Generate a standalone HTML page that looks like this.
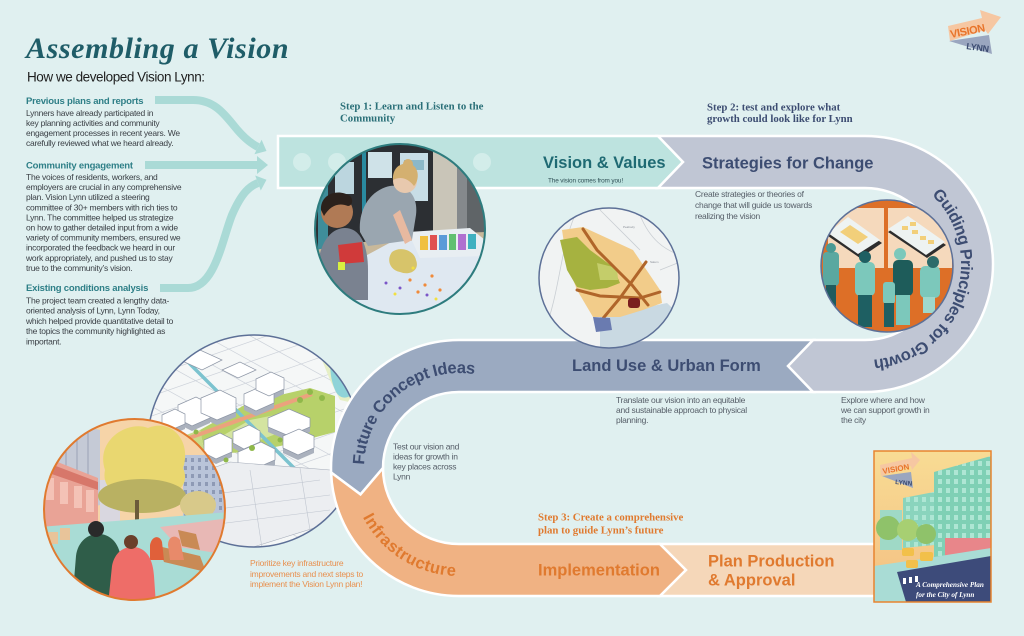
<!DOCTYPE html>
<html><head><meta charset="utf-8"><title>Assembling a Vision</title>
<style>
html,body{margin:0;padding:0;background:#e0f0f0;width:1024px;height:636px;overflow:hidden}
svg{display:block}
.s{font-family:"Liberation Sans",Arial,sans-serif}
.r{font-family:"Liberation Serif","Times New Roman",serif}
</style></head><body>
<svg width="1024" height="636" viewBox="0 0 1024 636" xmlns="http://www.w3.org/2000/svg">
<defs>
<clipPath id="c1"><circle cx="400" cy="229" r="85"/></clipPath>
<clipPath id="c2"><circle cx="609" cy="278" r="70"/></clipPath>
<clipPath id="c3"><circle cx="887" cy="266" r="66"/></clipPath>
<clipPath id="c4"><circle cx="254" cy="441" r="106"/></clipPath>
<clipPath id="c5"><circle cx="134.5" cy="509.5" r="90.5"/></clipPath>
<clipPath id="c6"><rect x="874" y="451" width="117" height="151"/></clipPath>
<linearGradient id="sky" x1="0" y1="0" x2="0" y2="1"><stop offset="0" stop-color="#f8dc94"/><stop offset="1" stop-color="#f4bf82"/></linearGradient>
<pattern id="win" width="8" height="9" patternUnits="userSpaceOnUse"><rect x="2" y="2" width="4" height="5" fill="#aee6d4"/></pattern>
<pattern id="win2" width="7" height="8" patternUnits="userSpaceOnUse"><rect x="2" y="2" width="3" height="4" fill="#8e9ab5"/></pattern>
<path id="pg" d="M931.7,194.9 A96,96 0 0 1 875,359.5"/>
<path id="pf" d="M364.1,464.7 A95,95 0 0 1 473.9,374.2"/>
<path id="pi" d="M362.8,517 A108,108 0 0 0 457.1,576"/>
</defs>
<rect width="1024" height="636" fill="#e0f0f0"/>

<!-- left arrows -->
<g fill="none" stroke="#aadad6" stroke-width="8">
<path d="M155,100 L193,100 C215,100 225,115 235,127 C243,137 250,143 258,147"/>
<path d="M145,165 L258,165"/>
<path d="M160,288 L188,288 C215,288 222,240 232,215 C242,192 250,186 258,183"/>
</g>
<g fill="#aadad6">
<polygon points="266.5,151 261.6,139.8 254.4,154.2"/>
<polygon points="268,165 257,156 257,174"/>
<polygon points="266.5,179.8 255.2,175.5 260.8,190.5"/>
</g>

<!-- iso plan circle (under bands) -->
<g clip-path="url(#c4)">
<rect x="148" y="335" width="212" height="212" fill="#f5f7f7"/>
<g stroke="#cdd2da" stroke-width="0.7">
<line x1="140" y1="380" x2="370" y2="300"/><line x1="140" y1="400" x2="370" y2="320"/><line x1="140" y1="420" x2="370" y2="340"/>
<line x1="140" y1="440" x2="370" y2="360"/><line x1="140" y1="460" x2="370" y2="380"/><line x1="140" y1="480" x2="370" y2="400"/>
<line x1="140" y1="500" x2="370" y2="420"/><line x1="140" y1="520" x2="370" y2="440"/><line x1="140" y1="540" x2="370" y2="460"/>
<line x1="140" y1="560" x2="370" y2="480"/><line x1="140" y1="580" x2="370" y2="500"/><line x1="140" y1="600" x2="370" y2="520"/>
<line x1="140" y1="250" x2="370" y2="377"/><line x1="140" y1="275" x2="370" y2="402"/><line x1="140" y1="300" x2="370" y2="427"/>
<line x1="140" y1="325" x2="370" y2="452"/><line x1="140" y1="350" x2="370" y2="477"/><line x1="140" y1="375" x2="370" y2="502"/>
<line x1="140" y1="400" x2="370" y2="527"/><line x1="140" y1="425" x2="370" y2="552"/><line x1="140" y1="450" x2="370" y2="577"/>
</g>
<polygon points="318,350 360,340 362,405 340,400 330,380" fill="#e6efc6"/>
<path d="M334,352 C350,350 358,365 356,385 C354,398 342,402 336,392 C330,380 328,362 334,352Z" fill="#8fd3d8"/>
<polygon points="200,430 250,402 310,388 335,396 335,432 290,444 250,452 205,454" fill="#b7d16a"/>
<polygon points="215,440 250,420 290,412 300,425 260,440" fill="#d4e4a0"/>
<polygon points="172,440 200,430 205,454 178,460" fill="#c9dc88"/>
<line x1="183" y1="357" x2="303" y2="477" stroke="#7cc3cf" stroke-width="3.5"/>
<line x1="178" y1="442" x2="312" y2="394" stroke="#eba27d" stroke-width="4"/>
<g transform="translate(0,5)" fill="#aab1bd">
<polygon points="178,405 196,397 210,404 210,418 192,426 178,419"/>
<polygon points="201,398 220,390 236,398 236,412 217,420 201,413"/>
<polygon points="244,394 262,386 274,392 274,403 256,411 244,405"/>
<polygon points="256,379 271,372 284,378 284,389 269,396 256,390"/>
<polygon points="268,418 289,409 310,418 310,427 289,436 268,427"/>
<polygon points="283,436 299,429 314,436 314,448 298,455 283,448"/>
<polygon points="233,432 249,425 260,431 260,442 244,449 233,443"/>
<polygon points="204,440 220,433 232,439 232,452 216,459 204,453"/>
<polygon points="238,452 261,442 275,449 275,460 252,470 238,463"/>
<polygon points="162,415 175,409 185,414 185,424 171,430 162,425"/>
</g>
<g fill="#ffffff" stroke="#8d96a6" stroke-width="0.7">
<polygon points="178,405 196,397 210,404 210,418 192,426 178,419"/>
<polygon points="201,398 220,390 236,398 236,412 217,420 201,413"/>
<polygon points="244,394 262,386 274,392 274,403 256,411 244,405"/>
<polygon points="256,379 271,372 284,378 284,389 269,396 256,390"/>
<polygon points="268,418 289,409 310,418 310,427 289,436 268,427"/>
<polygon points="283,436 299,429 314,436 314,448 298,455 283,448"/>
<polygon points="233,432 249,425 260,431 260,442 244,449 233,443"/>
<polygon points="204,440 220,433 232,439 232,452 216,459 204,453"/>
<polygon points="238,452 261,442 275,449 275,460 252,470 238,463"/>
<polygon points="162,415 175,409 185,414 185,424 171,430 162,425"/>
<polygon points="180,360 200,350 222,360 202,370"/>
<polygon points="222,370 240,362 256,370 238,378"/>
</g>
<g fill="#8fb84a"><circle cx="300" cy="400" r="3"/><circle cx="310" cy="392" r="3"/><circle cx="322" cy="398" r="3"/><circle cx="252" cy="448" r="3"/><circle cx="226" cy="460" r="2.5"/><circle cx="280" cy="440" r="2.5"/><circle cx="196" cy="432" r="2.5"/></g>
<g fill="#eceef1" stroke="#a6adba" stroke-width="0.6">
<polygon points="150,490 230,462 330,470 340,520 250,548 150,548"/>
</g>
<g stroke="#bfc5cf" stroke-width="0.6" fill="none">
<line x1="170" y1="500" x2="320" y2="480"/><line x1="170" y1="515" x2="330" y2="495"/><line x1="170" y1="530" x2="330" y2="510"/>
<line x1="200" y1="480" x2="210" y2="548"/><line x1="250" y1="470" x2="262" y2="548"/><line x1="300" y1="468" x2="310" y2="530"/>
</g>
</g>
<circle cx="254" cy="441" r="106" fill="none" stroke="#5d7097" stroke-width="1.5"/>

<!-- bands -->
<g stroke="#ffffff" stroke-width="2.5" stroke-linejoin="miter">
<path d="M278,136 L658,136 L683,162 L658,188 L278,188 Z" fill="#bde3df"/>
<path d="M658,136 L865,136 A128,128 0 0 1 865,392 L813,392 L788,366 L813,340 L865,340 A76,76 0 0 0 865,188 L658,188 L683,162 Z" fill="#c0c6d4"/>
<path d="M813,340 L459,340 A128,128 0 0 0 331.1,472.5 L360.5,494.4 L383,468 A76,76 0 0 1 459,392 L813,392 L788,366 Z" fill="#9baac1"/>
<path d="M331.1,472.5 L360.5,494.4 L383,468 A76,76 0 0 0 459,544 L660,544 L686,570 L660,596 L459,596 A128,128 0 0 1 331.1,472.5 Z" fill="#f0b283"/>
<path d="M660,544 L686,570 L660,596 L885,596 L885,544 Z" fill="#f5d7b9"/>
</g>
<g fill="#d3edea">
<circle cx="302" cy="162" r="9"/><circle cx="337" cy="162" r="9"/><circle cx="482" cy="162" r="9"/>
</g>

<!-- band texts -->
<g class="s" font-weight="bold" font-size="16.5">
<text x="543" y="168" fill="#1f6a73">Vision &amp; Values</text>
<text x="702" y="168.5" fill="#3d4d72">Strategies for Change</text>
<text x="572" y="371" fill="#3d4d72">Land Use &amp; Urban Form</text>
<text x="538" y="575.5" fill="#e07a2f">Implementation</text>
<text x="708" y="566.5" fill="#e07a2f">Plan Production</text>
<text x="708" y="585.5" fill="#e07a2f">&amp; Approval</text>
<text fill="#3d4d72" letter-spacing="-0.55"><textPath href="#pg">Guiding Principles for Growth</textPath></text>
<text fill="#3d4d72" letter-spacing="-0.4"><textPath href="#pf">Future Concept Ideas</textPath></text>
<text fill="#e07a2f" letter-spacing="0.6"><textPath href="#pi">Infrastructure</textPath></text>
</g>
<text class="s" x="548" y="182.7" font-size="6.4" letter-spacing="-0.12" fill="#2f4f55">The vision comes from you!</text>

<!-- photo 1 -->
<g clip-path="url(#c1)">
<rect x="315" y="144" width="170" height="170" fill="#2c2f33"/>
<rect x="318" y="150" width="10" height="100" fill="#3f8d9a"/>
<rect x="335" y="162" width="19" height="32" fill="#bcd6df"/>
<rect x="362" y="146" width="4" height="90" fill="#2a8aa0"/>
<rect x="368" y="152" width="24" height="26" fill="#cfe2e8"/>
<rect x="400" y="153" width="28" height="48" fill="#c8dde6"/>
<rect x="404" y="160" width="20" height="10" fill="#8cb8c8"/>
<rect x="433" y="144" width="24" height="110" fill="#c9c5b8"/>
<rect x="457" y="144" width="10" height="110" fill="#85898c"/>
<rect x="467" y="144" width="20" height="110" fill="#5f6467"/>
<polygon points="315,250 400,236 485,232 485,320 315,320" fill="#c8b89a"/>
<polygon points="330,275 395,240 485,244 485,300 430,320 345,320" fill="#dfe8f1"/>
<polygon points="330,275 345,320 338,320 322,280" fill="#3d5a8a"/>
<path d="M392,252 C400,246 414,250 416,260 C420,270 410,276 400,272 C390,270 386,260 392,252Z" fill="#d7c46a"/>
<g fill="#f08a3a"><circle cx="410" cy="280" r="1.6"/><circle cx="425" cy="285" r="1.6"/><circle cx="432" cy="276" r="1.6"/><circle cx="418" cy="292" r="1.6"/><circle cx="440" cy="290" r="1.6"/></g>
<g fill="#7b56c8"><circle cx="400" cy="288" r="1.5"/><circle cx="427" cy="295" r="1.5"/><circle cx="386" cy="283" r="1.5"/></g>
<g fill="#f2e040"><circle cx="395" cy="294" r="1.5"/><circle cx="436" cy="299" r="1.5"/><circle cx="413" cy="268" r="1.5"/></g>
<polygon points="408,232 470,228 485,240 485,256 420,258" fill="#e8eef2"/>
<g><rect x="420" y="236" width="8" height="14" fill="#f0c040"/><rect x="430" y="235" width="7" height="15" fill="#e05050"/><rect x="439" y="235" width="8" height="15" fill="#5a9ad8"/><rect x="449" y="234" width="7" height="16" fill="#60c070"/><rect x="458" y="234" width="8" height="16" fill="#b070d0"/><rect x="468" y="234" width="8" height="15" fill="#3fb0c0"/></g>
<path d="M360,232 C358,210 370,190 390,186 C410,184 418,198 416,215 L412,240 L368,246 Z" fill="#9aa6b0"/>
<path d="M400,210 L412,240 L405,244 L393,215 Z" fill="#e7b9a0"/>
<circle cx="405" cy="181" r="12" fill="#e8c9ae"/>
<path d="M393,180 C392,166 404,160 414,166 C420,172 418,182 414,186 C408,178 400,176 393,180Z" fill="#d4b070"/>
<circle cx="408" cy="164" r="5" fill="#d4b070"/>
<path d="M318,270 C318,245 330,228 345,228 C360,228 368,245 368,270 L368,300 L318,300Z" fill="#7a8290"/>
<path d="M338,245 L362,242 L364,262 L340,264Z" fill="#d03a3a"/>
<circle cx="337" cy="212" r="16" fill="#b07a55"/>
<path d="M321,210 C320,194 338,188 350,196 C354,200 352,206 348,206 C338,202 330,206 324,216Z" fill="#2b211c"/>
<rect x="338" y="262" width="7" height="8" fill="#d8f040"/>
</g>
<circle cx="400" cy="229" r="85" fill="none" stroke="#2e7c7e" stroke-width="2"/>

<!-- map circle -->
<g clip-path="url(#c2)">
<rect x="539" y="208" width="140" height="140" fill="#f1f3f3"/>
<g stroke="#c9ced3" stroke-width="0.8" fill="none">
<path d="M545,330 C560,290 560,250 575,215"/><path d="M640,215 C650,240 665,250 680,255"/><path d="M600,210 L640,250"/><path d="M660,270 L680,262"/>
</g>
<polygon points="600,317 667,303 682,317 667,350 600,350" fill="#c9d9e2"/>
<polygon points="562,230 583,227 633,250 660,290 662,303 643,310 620,317 593,317 577,290 567,263" fill="#f2cc8a"/>
<polygon points="560,240 577,237 590,250 613,267 620,283 607,288 590,290 577,287 567,270" fill="#a6b240"/>
<polygon points="597,263 617,268 618,280 600,280" fill="#c4cd6a"/>
<g stroke="#b0652a" stroke-width="3" fill="none" stroke-linecap="round">
<path d="M583,229 L597,250 L615,268 L632,285 L648,305"/>
<path d="M646,262 L620,298 L600,322"/>
<path d="M577,290 L600,296 L640,298 L660,292"/>
</g>
<rect x="628" y="298" width="12" height="10" rx="3" fill="#7a1e1e"/>
<polygon points="593,317 610,318 612,330 596,332" fill="#6a7bb0"/>
<g fill="#8a8f98" font-size="3" class="s"><text x="548" y="230">Lynnfield</text><text x="623" y="228">Peabody</text><text x="650" y="263">Salem</text></g>
</g>
<circle cx="609" cy="278" r="70" fill="none" stroke="#5d7097" stroke-width="1.5"/>

<!-- guiding circle -->
<g clip-path="url(#c3)">
<rect x="820" y="199" width="134" height="134" fill="#dd6f27"/>
<rect x="828" y="208" width="56" height="60" fill="#f5d9bc"/>
<rect x="888" y="208" width="64" height="60" fill="#f5d9bc"/>
<polygon points="828,236 848,220 882,243 860,258" fill="#2d2d2d"/>
<polygon points="828,233 848,217 880,240 858,254" fill="#eef3f2"/>
<polygon points="840,232 850,225 868,237 858,244" fill="#f2cf7a"/>
<polygon points="888,232 908,219 946,245 927,258" fill="#2d2d2d"/>
<polygon points="888,229 908,216 945,242 926,255" fill="#eef3f2"/>
<g fill="#f2cf7a"><rect x="902" y="226" width="6" height="4"/><rect x="912" y="230" width="6" height="4"/><rect x="920" y="236" width="6" height="4"/><rect x="910" y="222" width="6" height="4"/><rect x="928" y="240" width="6" height="4"/></g>
<rect x="823" y="252" width="16" height="34" rx="4" fill="#5aa8a0"/><rect x="826" y="285" width="10" height="25" fill="#1f5b5e"/><circle cx="831" cy="248" r="5" fill="#4a9a94"/>
<rect x="855" y="262" width="20" height="34" rx="5" fill="#7cc8bb"/><rect x="858" y="295" width="14" height="32" fill="#1e5f62"/><circle cx="865" cy="257" r="6" fill="#1e5f62"/>
<rect x="893" y="260" width="20" height="36" rx="5" fill="#1e5c5a"/><rect x="896" y="295" width="14" height="30" fill="#7cc8bb"/><circle cx="900" cy="254" r="6" fill="#7cc8bb"/>
<rect x="883" y="282" width="12" height="22" rx="3" fill="#7cc8bb"/><rect x="884" y="303" width="10" height="24" fill="#1e5f62"/>
<rect x="920" y="266" width="20" height="32" rx="5" fill="#7cc8bb"/><rect x="923" y="297" width="12" height="16" fill="#9fd8cc"/><circle cx="933" cy="262" r="6" fill="#2d6b6a"/>
</g>
<circle cx="887" cy="266" r="66" fill="none" stroke="#5d7097" stroke-width="1.5"/>

<!-- street circle -->
<g clip-path="url(#c5)">
<rect x="40" y="415" width="190" height="190" fill="#f6d4a8"/>
<polygon points="44,418 100,430 100,505 44,520" fill="#c5cad6"/>
<g stroke="#9aa2b6" stroke-width="1"><line x1="55" y1="420" x2="55" y2="515"/><line x1="66" y1="422" x2="66" y2="512"/><line x1="77" y1="424" x2="77" y2="510"/><line x1="88" y1="427" x2="88" y2="507"/></g>
<polygon points="40,455 98,478 98,548 40,565" fill="#e9a396"/>
<polygon points="40,460 98,482 98,490 40,470" fill="#d7776a"/>
<g fill="#f4c2b6"><rect x="46" y="478" width="8" height="22"/><rect x="60" y="482" width="8" height="22"/><rect x="74" y="486" width="8" height="22"/><rect x="86" y="490" width="8" height="22"/></g>
<rect x="183" y="455" width="47" height="65" fill="#b9c4d9"/>
<rect x="183" y="455" width="47" height="65" fill="url(#win2)"/>
<rect x="100" y="480" width="20" height="45" fill="#d9d7e0"/>
<path d="M105,470 C95,440 128,420 148,428 C172,418 192,442 183,468 C192,488 170,500 150,494 C130,504 100,494 105,470Z" fill="#e9d770"/>
<ellipse cx="142" cy="496" rx="44" ry="17" fill="#b9b162"/>
<ellipse cx="198" cy="505" rx="18" ry="14" fill="#d8c98a"/>
<rect x="135" y="500" width="4" height="42" fill="#6b5a3a"/>
<polygon points="40,527 230,512 230,605 40,605" fill="#a9dcd5"/>
<polygon points="160,527 230,518 230,555 178,547" fill="#e8b8b5"/>
<polygon points="158,546 200,556 206,572 164,562" fill="#c98a55"/>
<polygon points="178,530 196,534 200,550 182,546" fill="#c98a55"/>
<g fill="#e8c49a"><rect x="60" y="528" width="10" height="12"/><rect x="48" y="532" width="10" height="12"/></g>
<path d="M168,545 C168,536 176,534 180,540 L184,560 L170,560Z" fill="#e88a6a"/>
<path d="M150,545 C152,535 160,535 162,542 L164,560 L150,560Z" fill="#e0603a"/>
<path d="M72,605 L76,556 C78,540 90,533 100,534 C112,535 120,545 121,560 L124,605Z" fill="#2f5d49"/>
<circle cx="96" cy="529" r="8" fill="#2a2a2a"/>
<path d="M108,605 L112,566 C115,551 125,546 135,547 C148,549 153,561 154,576 L156,605Z" fill="#ee6d68"/>
<circle cx="131" cy="542" r="7" fill="#6a3f2a"/>
</g>
<circle cx="134.5" cy="509.5" r="90.5" fill="none" stroke="#e07a2f" stroke-width="2"/>

<!-- poster -->
<g clip-path="url(#c6)">
<rect x="874" y="451" width="117" height="151" fill="url(#sky)"/>
<polygon points="934,472 991,456 991,560 934,566" fill="#7fd0b5"/>
<polygon points="934,472 991,456 991,560 934,566" fill="url(#win)"/>
<polygon points="903,498 934,492 934,545 903,548" fill="#8ad4bd"/>
<polygon points="903,498 934,492 934,545 903,548" fill="url(#win)"/>
<rect x="880" y="510" width="22" height="40" fill="#9fd9c6"/>
<circle cx="888" cy="528" r="12" fill="#8fc26a"/><circle cx="908" cy="530" r="11" fill="#a7cf72"/><circle cx="926" cy="534" r="10" fill="#8fc26a"/>
<rect x="945" y="538" width="46" height="22" fill="#e8868a"/>
<polygon points="874,566 915,560 991,548 991,602 874,602" fill="#a9dcd5"/>
<polygon points="897,572 991,556 991,602 906,602" fill="#3d4b7a"/>
<g fill="#f2c04a"><rect x="902" y="548" width="12" height="8" rx="2"/><rect x="920" y="552" width="13" height="9" rx="2"/><rect x="906" y="560" width="12" height="8" rx="2"/></g>
<g fill="#ffffff"><rect x="903" y="578" width="3" height="6"/><rect x="909" y="577" width="3" height="6"/><rect x="915" y="576" width="3" height="6"/></g>
<polygon points="880,465 912,458 911,452 920,460 912,470 911,466 881,476" fill="#f6c7a2"/>
<text class="s" x="883" y="474" font-size="8" font-weight="bold" fill="#e8742a" transform="rotate(-10 883 474)">VISION</text>
<polygon points="882,476 911,472 913,488" fill="#9aa6bf"/>
<text class="s" x="895" y="484" font-size="6.5" font-weight="bold" fill="#3d4d72" transform="rotate(6 895 484)">LYNN</text>
<text class="r" x="916" y="587" font-size="7.2" font-style="italic" font-weight="bold" fill="#ffffff">A Comprehensive Plan</text>
<text class="r" x="916" y="597" font-size="7.2" font-style="italic" font-weight="bold" fill="#ffffff">for the City of Lynn</text>
</g>
<rect x="874" y="451" width="117" height="151" fill="none" stroke="#e8842f" stroke-width="1.5"/>

<!-- logo top right -->
<polygon points="948,26 982,18 980,10 1001,17 988,34 985,30 950,41" fill="#f6c7a2"/>
<text class="s" x="951" y="38" font-size="11" font-weight="bold" fill="#e8742a" transform="rotate(-11 951 38)" letter-spacing="-0.4">VISION</text>
<polygon points="949,41 989,35 992,54" fill="#9aa6bf"/>
<text class="s" x="966" y="49" font-size="9" font-weight="bold" fill="#3d4d72" transform="rotate(8 966 49)" letter-spacing="-0.3">LYNN</text>

<!-- left column text -->
<text class="r" x="26" y="58" font-size="30" font-weight="bold" font-style="italic" letter-spacing="0.6" fill="#1f5d68">Assembling a Vision</text>
<text class="s" x="27" y="81.5" font-size="13.5" letter-spacing="-0.45" fill="#1e1e1e">How we developed Vision Lynn:</text>
<g class="s" font-size="9.5" font-weight="bold" letter-spacing="-0.2" fill="#2e7f87">
<text x="26" y="104">Previous plans and reports</text>
<text x="26" y="168.3">Community engagement</text>
<text x="26" y="291">Existing conditions analysis</text>
</g>
<g class="s" font-size="8.5" letter-spacing="-0.25" fill="#3b4046">
<text x="26" y="116.2">Lynners have already participated in</text>
<text x="26" y="126.2">key planning activities and community</text>
<text x="26" y="136.2">engagement processes in recent years. We</text>
<text x="26" y="146.2">carefully reviewed what we heard already.</text>
<text x="26" y="180">The voices of residents, workers, and</text>
<text x="26" y="190.1">employers are crucial in any comprehensive</text>
<text x="26" y="200.2">plan. Vision Lynn utilized a steering</text>
<text x="26" y="210.3">committee of 30+ members with rich ties to</text>
<text x="26" y="220.4">Lynn. The committee helped us strategize</text>
<text x="26" y="230.5">on how to gather detailed input from a wide</text>
<text x="26" y="240.6">variety of community members, ensured we</text>
<text x="26" y="250.7">incorporated the feedback we heard in our</text>
<text x="26" y="260.8">work appropriately, and pushed us to stay</text>
<text x="26" y="270.9">true to the community’s vision.</text>
<text x="26" y="303.5">The project team created a lengthy data-</text>
<text x="26" y="313.7">oriented analysis of Lynn, Lynn Today,</text>
<text x="26" y="323.9">which helped provide quantitative detail to</text>
<text x="26" y="334.1">the topics the community highlighted as</text>
<text x="26" y="344.3">important.</text>
</g>

<!-- step texts -->
<g class="r" font-size="10.8" font-weight="bold">
<text x="340" y="109.5" fill="#2a6f78">Step 1: Learn and Listen to the</text>
<text x="340" y="121.5" fill="#2a6f78">Community</text>
<text x="707" y="110.5" fill="#3d4d72">Step 2: test and explore what</text>
<text x="707" y="122" fill="#3d4d72">growth could look like for Lynn</text>
<text x="538" y="520.5" fill="#e07a2f">Step 3: Create a comprehensive</text>
<text x="538" y="533.5" fill="#e07a2f">plan to guide Lynn’s future</text>
</g>

<!-- descriptions -->
<g class="s" font-size="8.5" letter-spacing="-0.25" fill="#565e68">
<text x="695" y="197">Create strategies or theories of</text>
<text x="695" y="208">change that will guide us towards</text>
<text x="695" y="219">realizing the vision</text>
<text x="841" y="403">Explore where and how</text>
<text x="841" y="413">we can support growth in</text>
<text x="841" y="423">the city</text>
<text x="616" y="403">Translate our vision into an equitable</text>
<text x="616" y="413">and sustainable approach to physical</text>
<text x="616" y="423">planning.</text>
<text x="393" y="449.5">Test our vision and</text>
<text x="393" y="459.5">ideas for growth in</text>
<text x="393" y="469.5">key places across</text>
<text x="393" y="479.5">Lynn</text>
</g>
<g class="s" font-size="8.5" letter-spacing="-0.25" fill="#e8904f">
<text x="250" y="566">Prioritize key infrastructure</text>
<text x="250" y="577">improvements and next steps to</text>
<text x="250" y="587">implement the Vision Lynn plan!</text>
</g>
</svg>
</body></html>
